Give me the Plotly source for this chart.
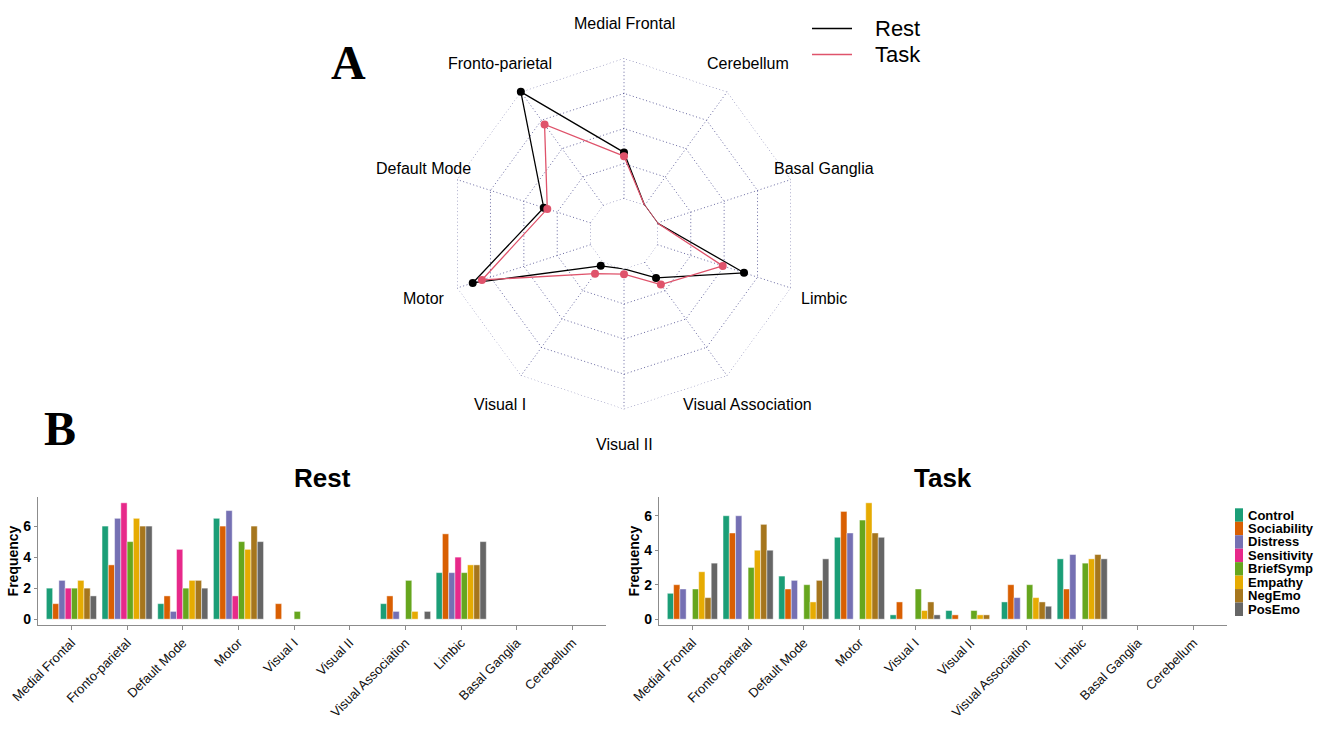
import math
import plotly.graph_objects as go

# ---------------- data ----------------
networks = ["Medial Frontal", "Fronto-parietal", "Default Mode", "Motor", "Visual I",
            "Visual II", "Visual Association", "Limbic", "Basal Ganglia", "Cerebellum"]

measures = ["Control", "Sociability", "Distress", "Sensitivity", "BriefSymp",
            "Empathy", "NegEmo", "PosEmo"]
colors = ["#1B9E77", "#D95F02", "#7570B3", "#E7298A", "#66A61E", "#E6AB02", "#A6761D", "#666666"]

# Rest frequencies (per measure, per network)
rest_control     = [2.0, 6.0, 1.0, 6.5, 0.0, 0.0, 1.0, 3.0, 0.0, 0.0]
rest_sociability = [1.0, 3.5, 1.5, 6.0, 1.0, 0.0, 1.5, 5.5, 0.0, 0.0]
rest_distress    = [2.5, 6.5, 0.5, 7.0, 0.0, 0.0, 0.5, 3.0, 0.0, 0.0]
rest_sensitivity = [2.0, 7.5, 4.5, 1.5, 0.0, 0.0, 0.0, 4.0, 0.0, 0.0]
rest_briefsymp   = [2.0, 5.0, 2.0, 5.0, 0.5, 0.0, 2.5, 3.0, 0.0, 0.0]
rest_empathy     = [2.5, 6.5, 2.5, 4.5, 0.0, 0.0, 0.5, 3.5, 0.0, 0.0]
rest_negemo      = [2.0, 6.0, 2.5, 6.0, 0.0, 0.0, 0.0, 3.5, 0.0, 0.0]
rest_posemo      = [1.5, 6.0, 2.0, 5.0, 0.0, 0.0, 0.5, 5.0, 0.0, 0.0]

# Task frequencies
task_control     = [1.5, 6.0, 2.5, 4.75, 0.25, 0.5, 1.0, 3.5, 0.0, 0.0]
task_sociability = [2.0, 5.0, 1.75, 6.25, 1.0, 0.25, 2.0, 1.75, 0.0, 0.0]
task_distress    = [1.75, 6.0, 2.25, 5.0, 0.0, 0.0, 1.25, 3.75, 0.0, 0.0]
task_sensitivity = [0.0, 0.0, 0.0, 0.0, 0.0, 0.0, 0.0, 0.0, 0.0, 0.0]
task_briefsymp   = [1.75, 3.0, 2.0, 5.75, 1.75, 0.5, 2.0, 3.25, 0.0, 0.0]
task_empathy     = [2.75, 4.0, 1.0, 6.75, 0.5, 0.25, 1.25, 3.5, 0.0, 0.0]
task_negemo      = [1.25, 5.5, 2.25, 5.0, 1.0, 0.25, 1.0, 3.75, 0.0, 0.0]
task_posemo      = [3.25, 4.0, 3.5, 4.75, 0.25, 0.0, 0.75, 3.5, 0.0, 0.0]

# Radar totals (sum over measures)
radar_rest = [15.5, 47.0, 16.5, 41.5, 1.5, 0.0, 6.5, 30.5, 0.0, 0.0]
radar_task = [14.25, 33.5, 15.25, 38.25, 4.75, 1.75, 9.25, 23.0, 0.0, 0.0]
radar_max = 47.0
radar_segments = 4
radar_series = ["Rest", "Task"]
radar_colors = ["#000000", "#DF536B"]

rest_series = [rest_control, rest_sociability, rest_distress, rest_sensitivity,
               rest_briefsymp, rest_empathy, rest_negemo, rest_posemo]
task_series = [task_control, task_sociability, task_distress, task_sensitivity,
               task_briefsymp, task_empathy, task_negemo, task_posemo]

# ---------------- layout helpers ----------------
W, H = 1329, 747
def px(x):
    return x / W
def py(y):
    return 1 - y / H

CX, CY, R = 624.0, 233.8, 175.5
FONT = "Liberation Sans, Arial, sans-serif"
GRID = "rgba(40,40,120,0.7)"
DOT = "1px,2.5px"

fig = go.Figure()

# ---------------- radar ----------------
theta_closed = networks + [networks[0]]
for k in range(radar_segments + 1):
    lvl = radar_max * k / radar_segments
    fig.add_trace(go.Scatterpolar(
        r=[lvl] * len(theta_closed), theta=theta_closed, mode="lines",
        line=dict(color=GRID, width=1, dash=DOT),
        hoverinfo="skip", showlegend=False, subplot="polar"))

for name, vals, col in zip(radar_series, [radar_rest, radar_task], radar_colors):
    fig.add_trace(go.Scatterpolar(
        r=vals + [vals[0]], theta=theta_closed, mode="lines", name=name,
        line=dict(color=col, width=1.3), showlegend=False, subplot="polar"))
    fig.add_trace(go.Scatterpolar(
        r=vals, theta=networks, mode="markers", name=name,
        marker=dict(color=col, size=8), showlegend=False, subplot="polar"))

fig.update_layout(polar=dict(
    domain=dict(x=[px(CX - R), px(CX + R)], y=[py(CY + R), py(CY - R)]),
    hole=0.2,
    gridshape="linear",
    bgcolor="white",
    radialaxis=dict(range=[0, radar_max], visible=False),
    angularaxis=dict(categoryarray=networks, categoryorder="array",
                     direction="counterclockwise", rotation=90,
                     showgrid=True, gridcolor=GRID, griddash=DOT, gridwidth=1,
                     showline=False, showticklabels=False, ticks=""),
))

annotations = []
shapes = []
for i, name in enumerate(networks):
    ang = math.radians(90 + 360.0 * i / len(networks))
    x = CX + 1.2 * R * math.cos(ang)
    y = CY - 1.2 * R * math.sin(ang)
    annotations.append(dict(x=px(x), y=py(y), xref="paper", yref="paper", text=name,
                            showarrow=False, xanchor="center", yanchor="middle",
                            font=dict(family=FONT, size=16, color="#000000")))

# radar legend
for i, (name, col) in enumerate(zip(radar_series, radar_colors)):
    yy = 28.5 + 26 * i
    shapes.append(dict(type="line", xref="paper", yref="paper", x0=px(812), x1=px(852),
                       y0=py(yy), y1=py(yy), line=dict(color=col, width=1.3)))
    annotations.append(dict(x=px(873), y=py(yy), xref="paper", yref="paper", text=name,
                            showarrow=False, xanchor="left", yanchor="middle",
                            font=dict(family=FONT, size=22, color="#000000")))

# ---------------- bar charts ----------------
for j, (m, c) in enumerate(zip(measures, colors)):
    fig.add_trace(go.Bar(x=networks, y=rest_series[j], name=m, marker=dict(color=c,
                         line=dict(color="rgba(255,255,255,0.55)", width=0.8)),
                         xaxis="x", yaxis="y", showlegend=False))
for j, (m, c) in enumerate(zip(measures, colors)):
    fig.add_trace(go.Bar(x=networks, y=task_series[j], name=m, marker=dict(color=c,
                         line=dict(color="rgba(255,255,255,0.55)", width=0.8)),
                         xaxis="x2", yaxis="y2", showlegend=False))

xcommon = dict(type="category", categoryarray=networks, categoryorder="array",
               range=[-0.6, 9.6], tickangle=-45, showline=True, linecolor="#8C8C8C",
               linewidth=1.2, ticks="outside", ticklen=4, tickcolor="#8C8C8C",
               tickfont=dict(family=FONT, size=13, color="#111111"), showgrid=False,
               zeroline=False, automargin=False)
ycommon = dict(showline=True, linecolor="#8C8C8C", linewidth=1.2, ticks="outside",
               ticklen=3, tickcolor="#8C8C8C", tickvals=[0, 2, 4, 6],
               tickfont=dict(family=FONT, size=14, color="#000000", weight="bold"),
               showgrid=False, zeroline=False, automargin=False,
               title=dict(text="Frequency", font=dict(family=FONT, size=14, color="#000000", weight="bold"),
                          standoff=1))

ydom = [py(625), py(497)]
fig.update_layout(
    xaxis=dict(domain=[px(38), px(606)], anchor="y", **xcommon),
    yaxis=dict(domain=ydom, anchor="x", range=[-0.375, 7.875], **ycommon),
    xaxis2=dict(domain=[px(659), px(1227)], anchor="y2", **xcommon),
    yaxis2=dict(domain=ydom, anchor="x2", range=[-0.3375, 7.0875], **ycommon),
    barmode="group", bargap=0.1, bargroupgap=0,
)

# bar legend
for i, (m, c) in enumerate(zip(measures, colors)):
    y0 = 508.3 + 13.46 * i
    shapes.append(dict(type="rect", xref="paper", yref="paper", x0=px(1235), x1=px(1243),
                       y0=py(y0 + 13.46), y1=py(y0), fillcolor=c, line=dict(width=0)))
    annotations.append(dict(x=px(1246), y=py(y0 + 6.7), xref="paper", yref="paper", text=m,
                            showarrow=False, xanchor="left", yanchor="middle",
                            font=dict(family=FONT, size=13, color="#000000", weight="bold")))

annotations += [
    dict(x=px(322), y=py(478), xref="paper", yref="paper", text="<b>Rest</b>", showarrow=False,
         xanchor="center", yanchor="middle", font=dict(family=FONT, size=26, color="#000")),
    dict(x=px(943), y=py(478), xref="paper", yref="paper", text="<b>Task</b>", showarrow=False,
         xanchor="center", yanchor="middle", font=dict(family=FONT, size=26, color="#000")),
    dict(x=px(348), y=py(62), xref="paper", yref="paper", text="<b>A</b>", showarrow=False,
         xanchor="center", yanchor="middle",
         font=dict(family="Liberation Serif, Times New Roman, serif", size=48, color="#000")),
    dict(x=px(60), y=py(428), xref="paper", yref="paper", text="<b>B</b>", showarrow=False,
         xanchor="center", yanchor="middle",
         font=dict(family="Liberation Serif, Times New Roman, serif", size=48, color="#000")),
]

fig.update_layout(
    width=W, height=H, autosize=False,
    margin=dict(l=0, r=0, t=0, b=0),
    paper_bgcolor="white", plot_bgcolor="white",
    annotations=annotations, shapes=shapes,
    showlegend=False,
)

fig.write_html("out.html", config={"displayModeBar": False},
               post_script="document.body.style.margin='0px';document.body.style.overflow='hidden';")
